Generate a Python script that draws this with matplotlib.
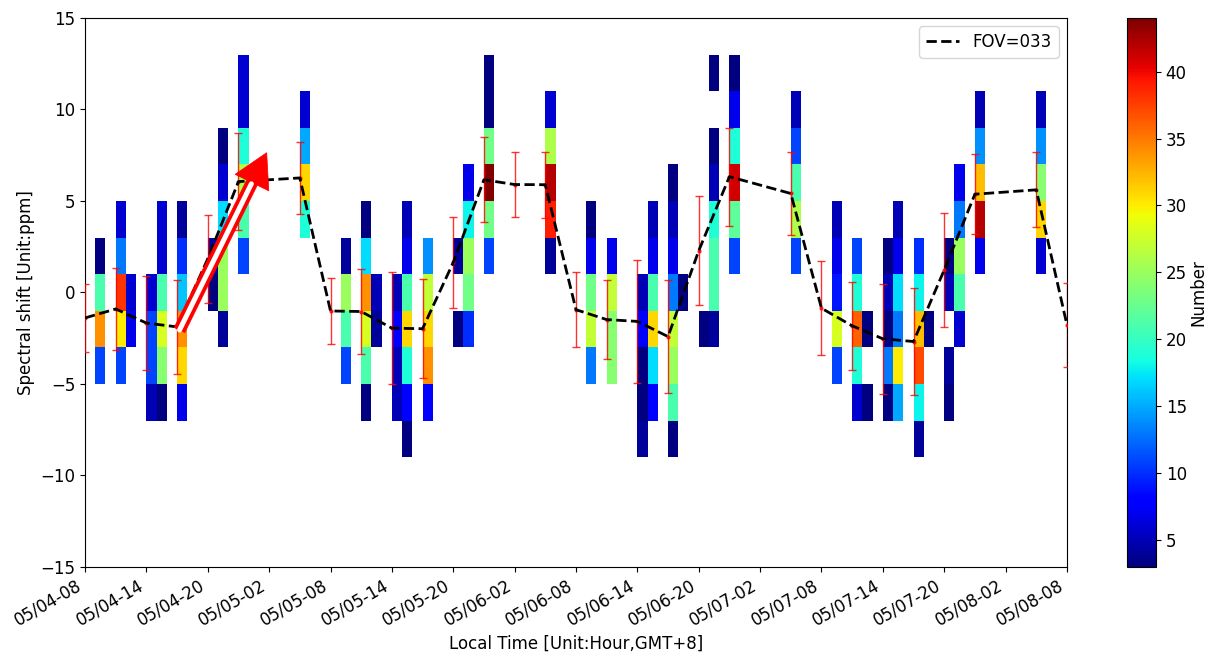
import numpy as np
import matplotlib
matplotlib.use('Agg')
import matplotlib.pyplot as plt

plt.rcParams['font.size'] = 12

# --- 2D histogram: hourly columns, 2 ppm bins, values = number of samples
y_edges = np.arange(-9, 14, 2)          # -9 ... 13
n_hours = 96

col_hours = [1, 3, 4, 6, 7, 9, 12, 13, 15, 21, 25, 27, 28, 30, 31, 33, 36, 37, 39,
             45, 49, 51, 54, 55, 57, 58, 60, 61, 63, 69, 73, 75, 76, 78, 79, 81,
             82, 84, 85, 87, 93]
# lower edge of first filled bin in each column
col_bottom = [-5, -5, -3, -7, -7, -7, -1, -3, 1, 3, -5, -7, -3, -7, -9, -7, -3, -3, 1,
              1, -5, -5, -9, -7, -9, -1, -3, -3, 1, 1, -5, -7, -7, -7, -7, -9,
              -3, -7, -3, 1, 1]
# counts from bottom to top (0 = empty bin)
col_counts = [
    [11, 34, 21, 3],
    [11, 30, 38, 13, 6],
    [7, 6],
    [5, 11, 11, 6],
    [3, 24, 28, 21, 6, 6],
    [7, 31, 34, 16, 10, 4],
    [3, 4],
    [4, 25, 25, 17, 6, 3],
    [11, 21, 26, 19, 6, 6],
    [19, 31, 15, 6],
    [11, 21, 25, 4],
    [3, 21, 28, 34, 17, 3],
    [4, 5],
    [5, 5, 8, 5],
    [3, 8, 19, 31, 21, 7, 5],
    [8, 34, 31, 27, 14],
    [3, 0, 4],
    [10, 23, 25, 18, 7],
    [11, 23, 44, 23, 3, 3],
    [4, 39, 42, 26, 6],
    [13, 27, 23, 7, 3],
    [24, 24, 27, 7],
    [4, 3, 3, 8, 5],
    [8, 17, 31, 21, 7, 5],
    [3, 21, 25, 27, 13, 7, 5, 3],
    [3],
    [3],
    [4, 21, 21, 19, 5, 3, 0, 3],
    [11, 22, 41, 19, 7, 3],
    [11, 26, 21, 11, 5],
    [11, 28, 9, 7, 5],
    [6, 19, 36, 19, 11],
    [3, 0, 3],
    [3, 13, 3, 5, 3],
    [15, 30, 13, 17, 7, 5],
    [4, 18, 37, 32, 18, 10],
    [3],
    [3, 4, 0, 5, 3],
    [6, 21, 25, 13, 7],
    [7, 42, 32, 14, 5],
    [6, 31, 24, 14, 5],
]

# --- mean spectral shift every 3 hours with std error bars
mean_hours = [0, 3, 6, 9, 12, 15, 21, 24, 27, 30, 33, 36, 39, 42, 45, 48, 51, 54,
              57, 60, 63, 69, 72, 75, 78, 81, 84, 87, 93, 96]
mean_shift = [-1.39, -0.90, -1.67, -1.88, 1.84, 6.06, 6.26, -1.01, -1.04, -1.95,
              -1.98, 1.64, 6.16, 5.90, 5.89, -0.94, -1.48, -1.58, -2.41, 2.28,
              6.33, 5.41, -0.86, -1.82, -2.53, -2.68, 1.23, 5.37, 5.61, -1.77]
std_shift = [1.85, 2.24, 2.57, 2.55, 2.40, 2.64, 1.98, 1.82, 2.32, 3.07, 2.72, 2.50,
             2.33, 1.78, 1.80, 2.06, 2.15, 3.35, 3.10, 2.98, 2.68, 2.27, 2.57, 2.41,
             3.00, 2.90, 3.12, 2.19, 2.05, 2.28]

tick_labels = ['05/04-08', '05/04-14', '05/04-20', '05/05-02', '05/05-08',
               '05/05-14', '05/05-20', '05/06-02', '05/06-08', '05/06-14',
               '05/06-20', '05/07-02', '05/07-08', '05/07-14', '05/07-20',
               '05/08-02', '05/08-08']

# arrow annotation (hour, ppm)
arrow_tail = (9.24, -2.05)
arrow_tip = (17.76, 7.64)

# build the histogram grid
H = np.zeros((len(y_edges) - 1, n_hours))
for h, b, counts in zip(col_hours, col_bottom, col_counts):
    j0 = int((b - y_edges[0]) // 2)
    for k, c in enumerate(counts):
        H[j0 + k, h] = c
H = np.ma.masked_equal(H, 0)
x_edges = np.arange(n_hours + 1)

fig = plt.figure(figsize=(12.06, 6.52), dpi=100)
ax = fig.add_axes([0.0705, 0.1304, 0.8142, 0.842])
cax = fig.add_axes([0.9345, 0.1304, 0.024, 0.842])

mesh = ax.pcolormesh(x_edges, y_edges, H, cmap='jet', vmin=3, vmax=44, zorder=1)

ax.errorbar(mean_hours, mean_shift, yerr=std_shift, fmt='.', color='red', ms=4,
            ecolor='red', elinewidth=1, capsize=3, alpha=0.8, zorder=3)
ax.plot(mean_hours, mean_shift, 'k--', lw=2, label='FOV=033', zorder=4)

# hollow red arrow with filled head
ax.annotate('', xy=arrow_tip, xytext=arrow_tail,
            arrowprops=dict(arrowstyle='simple,head_length=2.4,head_width=2.7,tail_width=0.85',
                            mutation_scale=10, fc='red', ec='red', lw=0.5,
                            shrinkA=0, shrinkB=0), zorder=10)
ax.annotate('', xy=arrow_tip, xytext=arrow_tail,
            arrowprops=dict(arrowstyle='-', color='white', lw=3.6,
                            shrinkA=0, shrinkB=25), zorder=11)

ax.set_xlim(0, n_hours)
ax.set_ylim(-15, 15)
ax.set_xticks(np.arange(0, n_hours + 1, 6))
ax.set_xticklabels(tick_labels, rotation=30, ha='right')
ax.set_yticks(np.arange(-15, 16, 5))
ax.set_xlabel('Local Time [Unit:Hour,GMT+8]')
ax.set_ylabel('Spectral shift [Unit:ppm]')
ax.legend(loc='upper right')

cb = fig.colorbar(mesh, cax=cax)
cb.set_ticks([5, 10, 15, 20, 25, 30, 35, 40])
cb.set_label('Number', labelpad=2)

fig.savefig('out.png', dpi=100)
